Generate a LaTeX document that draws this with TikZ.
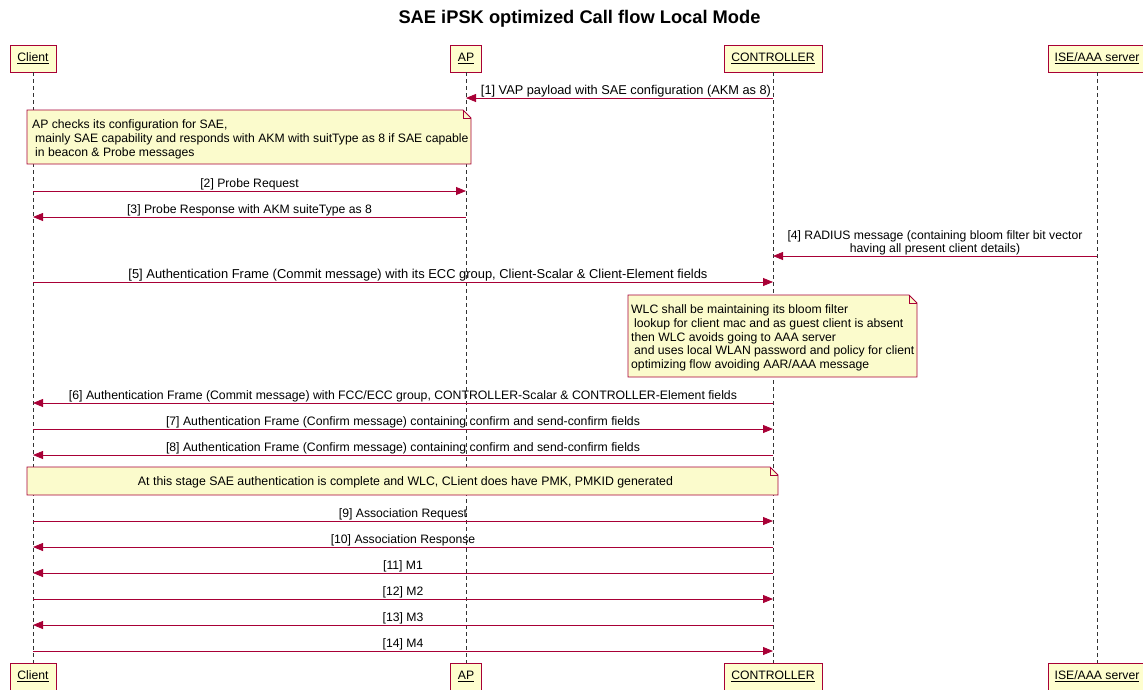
\documentclass[tikz,border=0pt]{standalone}
\usepackage{fontspec}
\setmainfont{Liberation Sans}
\usetikzlibrary{arrows.meta}
\definecolor{pred}{HTML}{A80036}
\definecolor{pbox}{HTML}{FEFECE}
\definecolor{pnote}{HTML}{FBFBCC}
\newcommand{\ptxt}[1]{\raisebox{-2.5pt}{\underline{#1}}}
\tikzset{
  part/.style={draw=pred, fill=pbox, line width=0.9pt, minimum height=27pt, inner sep=0pt,
    font=\fontsize{12.2}{14}\selectfont},
  life/.style={draw=black!80, line width=0.8pt, dash pattern=on 4pt off 3pt},
  msg/.style={draw=pred, line width=0.8pt, -{Triangle[length=10pt,width=8pt]}},
  lbl/.style={above=-0.8pt, inner sep=1pt, font=\fontsize{12.2}{13}\selectfont, align=center},
  notebox/.style={inner xsep=5pt, inner ysep=0pt, align=left, font=\fontsize{12.2}{14}\selectfont},
  noteline/.style={draw=pred, fill=pnote, line width=0.8pt},
}
\begin{document}
\begin{tikzpicture}[x=1pt,y=-1pt]
\useasboundingbox (0,0) rectangle (1143,689);
\node[font=\bfseries\fontsize{18.3}{20}\selectfont] (title) at (579.5,18.5) {SAE iPSK optimized Call flow Local Mode};

% participants
\node[part, minimum width=46pt] (client) at (33,58.5) {\ptxt{Client}};
\node[part, minimum width=31pt] (ap) at (466,58.5) {\ptxt{AP}};
\node[part, minimum width=98pt] (ctrl) at (773,58.5) {\ptxt{CONTROLLER}};
\node[part, minimum width=98pt] (ise) at (1097,58.5) {\ptxt{ISE/AAA server}};
\node[part, minimum width=46pt] (clientb) at (33,676.5) {\ptxt{Client}};
\node[part, minimum width=31pt] (apb) at (466,676.5) {\ptxt{AP}};
\node[part, minimum width=98pt] (ctrlb) at (773,676.5) {\ptxt{CONTROLLER}};
\node[part, minimum width=98pt] (iseb) at (1097,676.5) {\ptxt{ISE/AAA server}};

% lifelines
\draw[life] (client) -- (clientb);
\draw[life] (ap) -- (apb);
\draw[life] (ctrl) -- (ctrlb);
\draw[life] (ise) -- (iseb);

% [1]
\draw[msg] (ctrl |- 0,98) -- node[lbl, xshift=6.5pt] {\resizebox{290pt}{!}{[1] VAP payload with SAE configuration (AKM as 8)}} (ap |- 0,98);

% note 1
\draw[noteline] (27,110) -- (463,110) -- (471,118) -- (471,164) -- (27,164) -- cycle;
\draw[noteline, fill=none] (463,110) -- (463,118) -- (471,118);
\node[notebox, anchor=west] (note1) at (27,139.5) {AP checks its configuration for SAE,\\
\hspace*{3pt}mainly SAE capability and responds with AKM with suitType as 8 if SAE capable\\
\hspace*{3pt}in beacon \& Probe messages};

% [2] [3]
\draw[msg] (client |- 0,191) -- node[lbl] {[2] Probe Request} (ap |- 0,191);
\draw[msg] (ap |- 0,217) -- node[lbl] {[3] Probe Response with AKM suiteType as 8} (client |- 0,217);

% [4]
\draw[msg] (ise |- 0,256) -- node[lbl] {[4] RADIUS message (containing bloom filter bit vector\\having all present client details)} (ctrl |- 0,256);

% [5]
\draw[msg] (client |- 0,282) -- node[lbl, xshift=15pt] {\resizebox{579pt}{!}{[5] Authentication Frame (Commit message) with its ECC group, Client-Scalar \& Client-Element fields}} (ctrl |- 0,282);

% note 2
\draw[noteline] (628,295) -- (909,295) -- (917,303) -- (917,377) -- (628,377) -- cycle;
\draw[noteline, fill=none] (909,295) -- (909,303) -- (917,303);
\node[notebox, anchor=west, inner xsep=3pt, font=\fontsize{12.2}{13.75}\selectfont] (note2) at (628,338) {WLC shall be maintaining its bloom filter\\
\hspace*{3pt}lookup for client mac and as guest client is absent\\
then WLC avoids going to AAA server\\
\hspace*{3pt}and uses local WLAN password and policy for client\\
optimizing flow avoiding AAR/AAA message};

% [6] [7] [8]
\draw[msg] (ctrl |- 0,403) -- node[lbl] {\resizebox{668pt}{!}{[6] Authentication Frame (Commit message) with FCC/ECC group, CONTROLLER-Scalar \& CONTROLLER-Element fields}} (client |- 0,403);
\draw[msg] (client |- 0,429) -- node[lbl] {\resizebox{474pt}{!}{[7] Authentication Frame (Confirm message) containing confirm and send-confirm fields}} (ctrl |- 0,429);
\draw[msg] (ctrl |- 0,455) -- node[lbl] {\resizebox{474pt}{!}{[8] Authentication Frame (Confirm message) containing confirm and send-confirm fields}} (client |- 0,455);

% note 3
\draw[noteline] (27,467) -- (770,467) -- (778,475) -- (778,495) -- (27,495) -- cycle;
\draw[noteline, fill=none] (770,467) -- (770,475) -- (778,475);
\node[notebox, align=center] (note3) at (405.5,482) {\resizebox{535pt}{!}{At this stage SAE authentication is complete and WLC, CLient does have PMK, PMKID generated}};

% [9]-[14]
\draw[msg] (client |- 0,521) -- node[lbl] {[9] Association Request} (ctrl |- 0,521);
\draw[msg] (ctrl |- 0,547) -- node[lbl] {[10] Association Response} (client |- 0,547);
\draw[msg] (ctrl |- 0,573) -- node[lbl] {[11] M1} (client |- 0,573);
\draw[msg] (client |- 0,599) -- node[lbl] {[12] M2} (ctrl |- 0,599);
\draw[msg] (ctrl |- 0,625) -- node[lbl] {[13] M3} (client |- 0,625);
\draw[msg] (client |- 0,651) -- node[lbl] {[14] M4} (ctrl |- 0,651);
\end{tikzpicture}
\end{document}
